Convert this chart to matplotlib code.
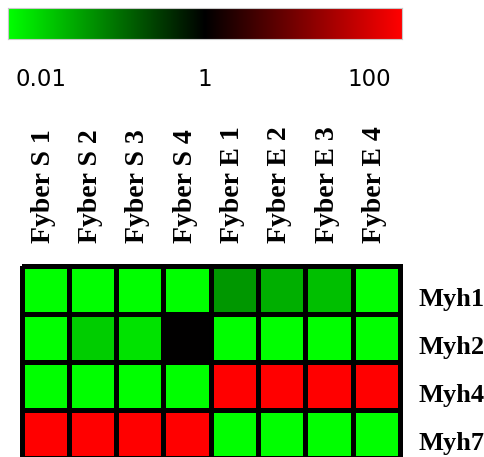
import numpy as np
import matplotlib
matplotlib.use("Agg")
import matplotlib.pyplot as plt
import matplotlib.transforms as mtransforms
from matplotlib.colors import LinearSegmentedColormap, LogNorm

samples = ["Fyber S 1", "Fyber S 2", "Fyber S 3", "Fyber S 4",
           "Fyber E 1", "Fyber E 2", "Fyber E 3", "Fyber E 4"]
genes = ["Myh1", "Myh2", "Myh4", "Myh7"]

# relative expression (fold change), one row per gene
myh1 = [0.01, 0.01, 0.01, 0.01, 0.067, 0.043, 0.032, 0.01]
myh2 = [0.01, 0.025, 0.017, 1.0, 0.01, 0.01, 0.01, 0.01]
myh4 = [0.01, 0.01, 0.01, 0.01, 100, 100, 100, 100]
myh7 = [100, 100, 100, 100, 0.01, 0.01, 0.01, 0.01]

scale_ticks = [0.01, 1, 100]
scale_labels = ["0.01", "1", "100"]

values = np.array([myh1, myh2, myh4, myh7])
cmap = LinearSegmentedColormap.from_list("gbr", ["#00ff00", "#000000", "#ff0000"])
norm = LogNorm(vmin=0.01, vmax=100)

W, H = 485, 457
fig = plt.figure(figsize=(W / 100, H / 100), dpi=100)

# colour scale bar
cax = fig.add_axes([8 / W, 1 - 39 / H, 394 / W, 31 / H])
span = 2.4
grad = np.linspace(-span, span, 512)[None, :]
cax.imshow(grad, aspect="auto", cmap=cmap, vmin=-span, vmax=span,
           extent=(-span, span, 0, 1))
cax.set_xlim(-span, span)
cax.set_ylim(0, 1)
cax.set_yticks([])
cax.set_xticks(np.log10(scale_ticks))
cax.set_xticklabels(scale_labels, fontsize=16.5, family="DejaVu Sans")
cax.tick_params(axis="x", length=0, pad=21)
for s in cax.spines.values():
    s.set_color("#c8c8c8")
    s.set_linewidth(0.8)

# heatmap
ax = fig.add_axes([21.5 / W, 1 - 458 / H, 378.5 / W, 192.5 / H])
mesh = ax.pcolormesh(values, cmap=cmap, norm=norm, edgecolors="black",
                     linewidth=3.6)
mesh.set_clip_on(False)
ax.set_xlim(0, len(samples))
ax.set_ylim(len(genes), 0)
for s in ax.spines.values():
    s.set_visible(False)

ax.xaxis.tick_top()
ax.set_xticks(np.arange(len(samples)) + 0.5)
ax.set_xticklabels(samples, rotation=90, fontsize=20,
                   family="Liberation Serif", fontweight="bold")
ax.tick_params(axis="x", length=0, pad=16)
shift_x = mtransforms.ScaledTranslation(-2 / 100, 0, fig.dpi_scale_trans)
for lbl in ax.get_xticklabels():
    lbl.set_transform(lbl.get_transform() + shift_x)

ax.yaxis.tick_right()
ax.set_yticks(np.arange(len(genes)) + 0.5)
ax.set_yticklabels(genes, fontsize=19, family="Liberation Serif",
                   fontweight="bold")
ax.tick_params(axis="y", length=0, pad=13.5)
shift_y = mtransforms.ScaledTranslation(0, -7 / 100, fig.dpi_scale_trans)
for lbl in ax.get_yticklabels():
    lbl.set_transform(lbl.get_transform() + shift_y)

fig.savefig("out.png", dpi=100)
